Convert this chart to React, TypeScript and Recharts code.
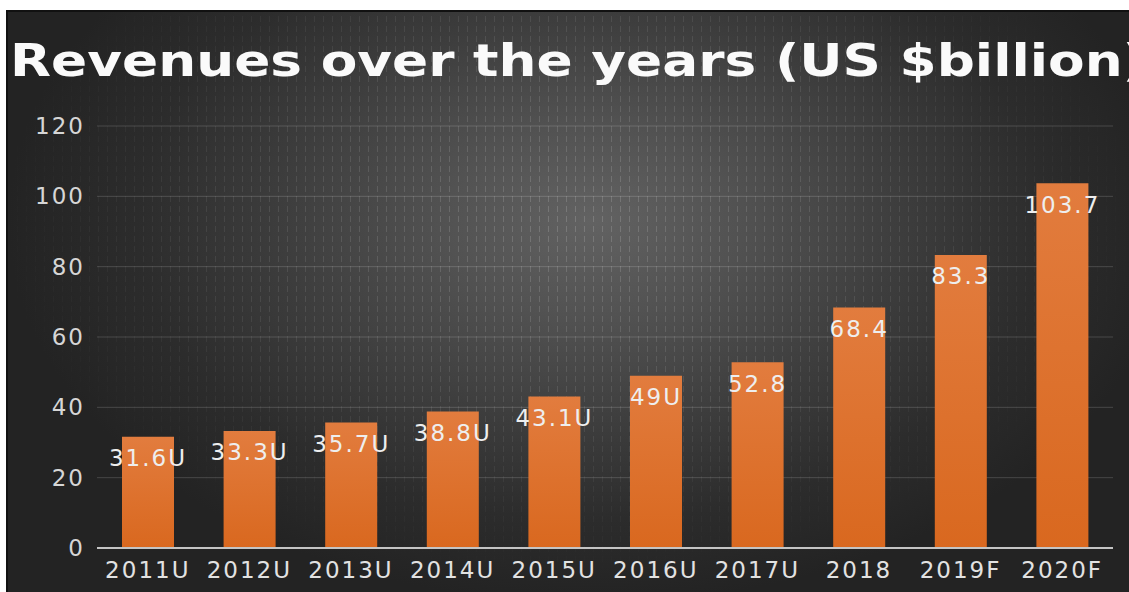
import React from 'react';
import { BarChart, Bar, XAxis, YAxis, CartesianGrid, LabelList } from 'recharts';

const categories = ['2011U', '2012U', '2013U', '2014U', '2015U', '2016U', '2017U', '2018', '2019F', '2020F'];
const revenues = [31.6, 33.3, 35.7, 38.8, 43.1, 49, 52.8, 68.4, 83.3, 103.7];
const valueLabels = ['31.6U', '33.3U', '35.7U', '38.8U', '43.1U', '49U', '52.8', '68.4', '83.3', '103.7'];
const yTicks = [0, 20, 40, 60, 80, 100, 120];
const titleText = 'Revenues over the years (US $billion)';

const data = categories.map((c, i) => ({ category: c, revenue: revenues[i], label: valueLabels[i] }));

const patternMask =
  'repeating-linear-gradient(0deg, #000 0px, #000 6px, transparent 6px, transparent 10px), radial-gradient(ellipse 52% 62% at 50% 36%, #000 0%, rgba(0,0,0,0.55) 55%, transparent 100%)';

export default function App() {
  return (
    <div
      style={{
        position: 'absolute',
        left: 0,
        top: 0,
        width: 1129,
        height: 592,
        background: '#ffffff',
        overflow: 'hidden',
        fontFamily: '"DejaVu Sans", sans-serif',
      }}
    >
      <div
        style={{
          position: 'absolute',
          left: 6,
          top: 10,
          width: 1123,
          height: 582,
          borderTop: '2px solid #111',
          borderLeft: '2px solid #111',
          boxSizing: 'border-box',
          background:
            'radial-gradient(ellipse 52% 66% at 52% 36%, #626262 0%, #525252 25%, #3e3e3e 52%, #2c2c2c 78%, #232323 100%)',
          overflow: 'hidden',
        }}
      >
        <div
          style={{
            position: 'absolute',
            inset: 0,
            background:
              'repeating-linear-gradient(90deg, rgba(255,255,255,0.16) 0px, rgba(255,255,255,0.16) 1px, rgba(0,0,0,0) 1px, rgba(0,0,0,0) 9px)',
            WebkitMaskImage: patternMask,
            maskImage: patternMask,
            WebkitMaskComposite: 'source-in',
            maskComposite: 'intersect',
          } as React.CSSProperties}
        />
      </div>

      <svg width={1129} height={110} style={{ position: 'absolute', left: 0, top: 0 }}>
        <text
          x={10}
          y={76}
          fontSize={44}
          fontWeight="bold"
          fill="#fafafa"
          fontFamily='"DejaVu Sans", sans-serif'
          textLength={1137}
          lengthAdjust="spacingAndGlyphs"
        >
          {titleText}
        </text>
      </svg>

      <div style={{ position: 'absolute', left: 0, top: 0, letterSpacing: '2px' }}>
        <BarChart
          width={1129}
          height={592}
          data={data}
          margin={{ top: 126, right: 16, bottom: 0, left: 0 }}
        >
          <defs>
            <linearGradient id="barFill" x1="0" y1="0" x2="0" y2="1">
              <stop offset="0%" stopColor="#E27C3E" />
              <stop offset="100%" stopColor="#D9681F" />
            </linearGradient>
          </defs>
          <CartesianGrid vertical={false} stroke="rgba(255,255,255,0.16)" strokeWidth={1} />
          <XAxis
            dataKey="category"
            height={44}
            interval={0}
            tickLine={false}
            tickSize={0}
            tickMargin={14}
            axisLine={{ stroke: '#c4c4c4', strokeWidth: 2 }}
            tick={{ fill: '#e2e2e2', fontSize: 23 }}
          />
          <YAxis
            width={97}
            domain={[0, 120]}
            ticks={yTicks}
            interval={0}
            axisLine={false}
            tickLine={false}
            tickSize={0}
            tickMargin={12}
            tick={{ fill: '#d6d6d6', fontSize: 23 }}
          />
          <Bar dataKey="revenue" fill="url(#barFill)" barSize={52} isAnimationActive={false}>
            <LabelList dataKey="label" position="insideTop" offset={13} fill="#eeeeee" fontSize={23} />
          </Bar>
        </BarChart>
      </div>
    </div>
  );
}
